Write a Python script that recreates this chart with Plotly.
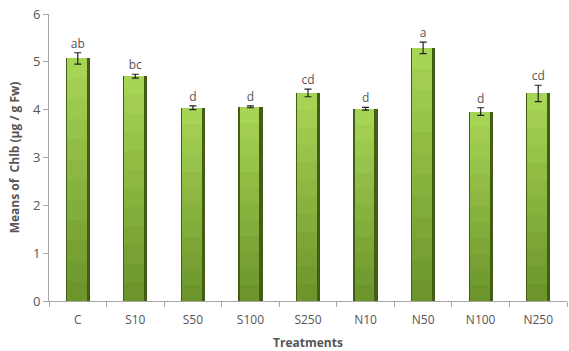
import plotly.graph_objects as go

treatments = ["C", "S10", "S50", "S100", "S250", "N10", "N50", "N100", "N250"]
means = [5.07, 4.70, 4.04, 4.06, 4.35, 4.02, 5.29, 3.96, 4.34]
errors = [0.12, 0.04, 0.04, 0.02, 0.08, 0.03, 0.12, 0.08, 0.17]
letters = ["ab", "bc", "d", "d", "cd", "d", "a", "d", "cd"]

font_family = "Open Sans, Liberation Sans, sans-serif"
text_color = "#555555"

fig = go.Figure()

bar_w = 0.42

# Dark outer shell of each bar (gives the shaded right edge)
fig.add_trace(go.Bar(x=treatments, y=means, width=bar_w,
                     marker=dict(color="#435e14", line=dict(width=0)),
                     hoverinfo="skip"))

# Inner body: stacked-down layers, lighter towards the top, to imitate a gradient
steps = 12
top_rgb = (166, 212, 84)
bot_rgb = (108, 150, 44)
inner_w = bar_w - 0.075
inner_off = -bar_w / 2 + 0.02
for i in range(steps):
    frac = 1 - i / steps
    t = i / (steps - 1)
    rgb = tuple(round(a + (b - a) * t) for a, b in zip(top_rgb, bot_rgb))
    fig.add_trace(go.Bar(x=treatments, y=[m * frac for m in means],
                         width=inner_w, offset=inner_off,
                         marker=dict(color="rgb(%d,%d,%d)" % rgb, line=dict(width=0)),
                         hoverinfo="skip"))

# Error bars and significance letters
tops = [m + e for m, e in zip(means, errors)]
fig.add_trace(go.Scatter(x=treatments, y=means, mode="markers",
                         marker=dict(size=0.1, color="rgba(0,0,0,0)"),
                         error_y=dict(type="data", array=errors, visible=True,
                                      color="#222222", thickness=1.2, width=3.5),
                         hoverinfo="skip"))
fig.add_trace(go.Scatter(x=treatments, y=[t + 0.04 for t in tops], mode="text", text=letters,
                         textposition="top center",
                         textfont=dict(family=font_family, size=12, color=text_color),
                         hoverinfo="skip"))

fig.update_layout(
    width=569, height=351,
    margin=dict(l=49, r=2, t=14, b=50),
    barmode="overlay",
    bargap=0,
    showlegend=False,
    plot_bgcolor="white",
    paper_bgcolor="white",
    font=dict(family=font_family, color=text_color),
    xaxis=dict(
        title=dict(text="<b>Treatments</b>", font=dict(size=12, color=text_color), standoff=11),
        tickson="boundaries", ticks="outside", ticklen=5, tickcolor="#a6a6a6",
        ticklabelstandoff=8,
        showline=True, linecolor="#a6a6a6", linewidth=1,
        tickfont=dict(size=12, color=text_color),
        range=[-0.5, 8.5],
    ),
    yaxis=dict(
        title=dict(text="<b>Means of  Chlb (µg / g Fw)</b>", font=dict(size=12, color=text_color), standoff=10),
        range=[0, 6], dtick=1, ticks="outside", ticklen=5, tickcolor="#a6a6a6",
        showline=True, linecolor="#a6a6a6", linewidth=1,
        showgrid=False, zeroline=False,
        tickfont=dict(size=13, color=text_color),
    ),
)

fig.write_html("out.html")
